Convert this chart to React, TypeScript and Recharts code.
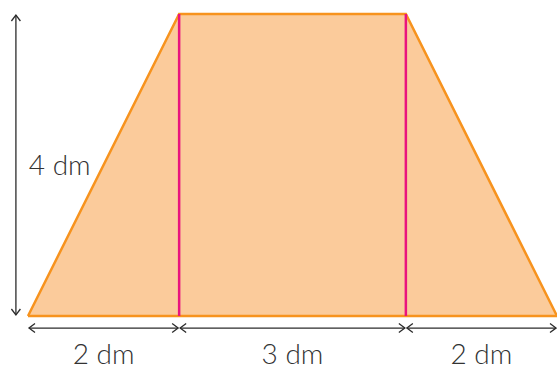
import React from 'react';
import { ComposedChart, Area, XAxis, YAxis, ReferenceLine, ReferenceDot } from 'recharts';

// Trapezoid outline (dm)
const cornerX = [0, 2, 5, 7];
const cornerY = [0, 4, 4, 0];
// Base segments
const segmentStarts = [0, 2, 5];
const segmentEnds = [2, 5, 7];
const segmentLabels = ['2 dm', '3 dm', '2 dm'];
// Height
const heightValue = 4;
const heightLabel = '4 dm';
// Inner verticals
const innerVerticals = [2, 5];

const data = cornerX.map((x, i) => ({ x, y: cornerY[i] }));

const ORANGE = '#F7931E';
const FILL = '#FBCB9B';
const PINK = '#E9147E';
const INK = '#2b2b2b';

const ArrowShape = (props: any) => {
  const { x1, y1, x2, y2 } = props;
  const dx = x2 - x1;
  const dy = y2 - y1;
  const len = Math.sqrt(dx * dx + dy * dy) || 1;
  const ux = dx / len;
  const uy = dy / len;
  const inset = 1;
  const ax = x1 + ux * inset, ay = y1 + uy * inset;
  const bx = x2 - ux * inset, by = y2 - uy * inset;
  const h = 6, w = 4.5;
  const px = -uy, py = ux;
  const head = (tx: number, ty: number, dir: number) =>
    `M${tx + dir * ux * h + px * w},${ty + dir * uy * h + py * w} L${tx},${ty} L${tx + dir * ux * h - px * w},${ty + dir * uy * h - py * w}`;
  return (
    <g>
      <line x1={ax} y1={ay} x2={bx} y2={by} stroke={INK} strokeWidth={1.3} />
      <path d={head(ax, ay, 1)} stroke={INK} strokeWidth={1.3} fill="none" />
      <path d={head(bx, by, -1)} stroke={INK} strokeWidth={1.3} fill="none" />
    </g>
  );
};

const labelStyle = {
  fill: '#333',
  fontSize: 28,
  fontFamily: 'Lato, sans-serif',
  fontWeight: 300,
};

export default function App() {
  return (
    <div style={{ position: 'absolute', left: 0, top: 0, background: '#fff' }}>
      <ComposedChart
        width={557}
        height={367}
        data={data}
        margin={{ top: 14, right: 0, bottom: 51, left: 28 }}
      >
        <XAxis type="number" dataKey="x" domain={[0, 7]} hide />
        <YAxis type="number" domain={[0, 4]} hide />
        <Area
          type="linear"
          dataKey="y"
          stroke={ORANGE}
          strokeWidth={2.5}
          fill={FILL}
          fillOpacity={1}
          isAnimationActive={false}
          dot={false}
          activeDot={false}
        />
        <ReferenceLine
          segment={[{ x: 0, y: 0 }, { x: 7, y: 0 }]}
          stroke={ORANGE}
          strokeWidth={2.5}
          ifOverflow="visible"
        />
        {innerVerticals.map((v) => (
          <ReferenceLine
            key={'v' + v}
            segment={[{ x: v, y: 0 }, { x: v, y: heightValue }]}
            stroke={PINK}
            strokeWidth={2.5}
            ifOverflow="visible"
          />
        ))}
        <ReferenceLine
          segment={[{ x: -0.16, y: 0 }, { x: -0.16, y: heightValue }]}
          ifOverflow="visible"
          shape={ArrowShape}
        />
        {segmentStarts.map((s, i) => (
          <ReferenceLine
            key={'s' + i}
            segment={[{ x: s, y: -0.16 }, { x: segmentEnds[i], y: -0.16 }]}
            ifOverflow="visible"
            shape={ArrowShape}
          />
        ))}
        {segmentStarts.map((s, i) => (
          <ReferenceDot
            key={'l' + i}
            x={(s + segmentEnds[i]) / 2}
            y={-0.5}
            r={0}
            fill="none"
            stroke="none"
            ifOverflow="visible"
            label={{ value: segmentLabels[i], position: 'center', ...labelStyle }}
          />
        ))}
        <ReferenceDot
          x={0.42}
          y={heightValue / 2}
          r={0}
          fill="none"
          stroke="none"
          ifOverflow="visible"
          label={{ value: heightLabel, position: 'center', ...labelStyle }}
        />
      </ComposedChart>
    </div>
  );
}
